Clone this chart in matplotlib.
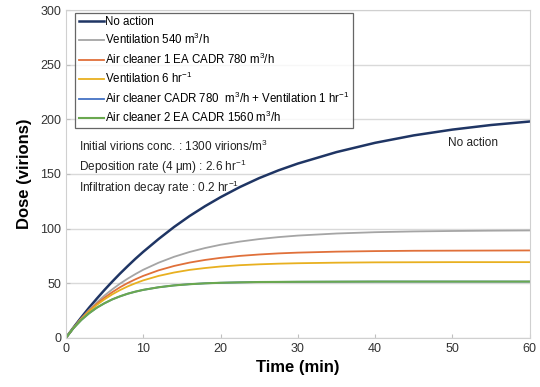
import numpy as np
import matplotlib
matplotlib.use("Agg")
import matplotlib.pyplot as plt

plt.rcParams['font.family'] = ['Liberation Sans', 'DejaVu Sans']
plt.rcParams['mathtext.fontset'] = 'custom'
plt.rcParams['mathtext.rm'] = 'Liberation Sans'
plt.rcParams['mathtext.it'] = 'Liberation Sans:italic'
plt.rcParams['mathtext.bf'] = 'Liberation Sans:bold'

# time (min)
t = [0, 1, 2, 3, 4, 5, 6, 7, 8, 9, 10, 12, 14, 16, 18, 20, 22.5, 25, 27.5, 30, 35, 40, 45, 50, 55, 60]

# dose (virions)
no_action = [0, 9.6, 18.8, 27.6, 35.9, 43.9, 51.5, 58.8, 65.7, 72.4, 78.7, 90.5, 101.5, 111.5, 120.5,
             128.7, 138.0, 146.2, 153.3, 159.5, 170.0, 178.5, 185.3, 190.6, 194.8, 198.0]
vent_540 = [0, 9.4, 17.9, 25.5, 32.5, 38.8, 44.4, 49.6, 54.2, 58.4, 62.3, 68.8, 74.2, 78.6, 82.2,
            85.2, 88.1, 90.4, 92.2, 93.6, 95.5, 96.7, 97.4, 97.8, 98.1, 98.3]
cleaner_1 = [0, 9.3, 17.5, 24.7, 31.1, 36.8, 41.8, 46.3, 50.2, 53.6, 56.7, 61.8, 65.8, 68.9, 71.3,
             73.2, 75.0, 76.3, 77.3, 78.0, 78.9, 79.4, 79.7, 79.8, 79.9, 80.0]
vent_6 = [0, 9.2, 17.2, 24.1, 30.1, 35.3, 39.8, 43.7, 47.1, 50.0, 52.6, 56.7, 59.8, 62.2, 63.9,
          65.3, 66.5, 67.3, 67.9, 68.3, 68.8, 69.1, 69.2, 69.3, 69.3, 69.3]
cleaner_vent = [0, 9.0, 16.4, 22.5, 27.6, 31.7, 35.2, 38.0, 40.4, 42.3, 43.9, 46.3, 48.0, 49.1, 49.9,
                50.4, 50.8, 51.1, 51.2, 51.3, 51.4, 51.5, 51.5, 51.5, 51.5, 51.5]
cleaner_2 = [0, 9.0, 16.4, 22.5, 27.6, 31.7, 35.2, 38.0, 40.4, 42.3, 43.9, 46.3, 48.0, 49.1, 49.9,
             50.4, 50.8, 51.1, 51.2, 51.3, 51.4, 51.5, 51.5, 51.5, 51.5, 51.5]

series = [
    (no_action, "No action", "#1f3564", 1.8),
    (vent_540, "Ventilation 540 m$^3$/h", "#a5a5a5", 1.3),
    (cleaner_1, "Air cleaner 1 EA CADR 780 m$^3$/h", "#e0703a", 1.3),
    (vent_6, "Ventilation 6 hr$^{-1}$", "#e8b020", 1.3),
    (cleaner_vent, "Air cleaner CADR 780  m$^3$/h + Ventilation 1 hr$^{-1}$", "#4472c4", 1.3),
    (cleaner_2, "Air cleaner 2 EA CADR 1560 m$^3$/h", "#6aa84f", 1.5),
]

fig = plt.figure(figsize=(5.4, 3.87), dpi=100)
ax = fig.add_axes([0.122, 0.127, 0.859, 0.847])

for y, lab, col, lw in series:
    ax.plot(t, y, color=col, lw=lw, label=lab)

ax.set_xlim(0, 60)
ax.set_ylim(0, 300)
ax.set_xticks(range(0, 61, 10))
ax.set_yticks(range(0, 301, 50))
ax.yaxis.grid(True, color="#d9d9d9", lw=1)
ax.set_axisbelow(True)
for s in ax.spines.values():
    s.set_color("#d0d0d0")
ax.tick_params(direction="in", length=3, color="#bfbfbf", labelsize=9, labelcolor="#333333")

ax.set_xlabel("Time (min)", fontsize=12, fontweight="bold", labelpad=4)
ax.set_ylabel("Dose (virions)", fontsize=12, fontweight="bold", labelpad=6)

leg = ax.legend(loc="upper left", bbox_to_anchor=(0.02, 0.992), fontsize=8.3, frameon=True,
                fancybox=False, edgecolor="#404040", handlelength=2.2, handletextpad=0.1,
                labelspacing=0.36, borderpad=0.3, borderaxespad=0)
leg.get_frame().set_linewidth(0.9)

ax.text(1.7, 155.5, "Initial virions conc. : 1300 virions/m$^3$\n"
        "Deposition rate (4 μm) : 2.6 hr$^{-1}$\n"
        "Infiltration decay rate : 0.2 hr$^{-1}$",
        fontsize=8.5, color="#222222", va="center", linespacing=1.25)
ax.text(49.4, 178, "No action", fontsize=8.5, color="#222222", va="center")

fig.savefig("out.png", dpi=100)
